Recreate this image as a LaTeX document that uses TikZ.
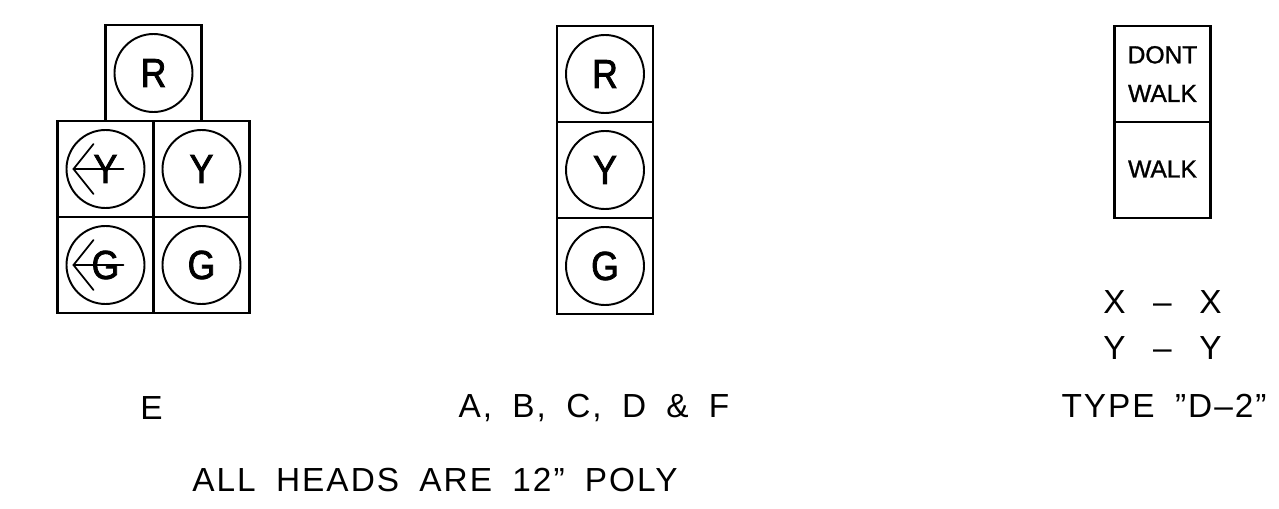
\documentclass[tikz,border=0pt]{standalone}
\usepackage{fontspec}
\setmainfont{Liberation Sans}
\newfontfamily\capfont[LetterSpace=6,WordSpace=1.8]{Liberation Sans}
\newfontfamily\lampfont[FakeBold=2,FakeStretch=0.88]{Liberation Sans}
\newfontfamily\walkfont[FakeBold=1.2]{Liberation Sans}
\usetikzlibrary{positioning,calc}

\tikzset{
    headbox/.style={rectangle, draw, line width=1.5pt, minimum size=1.92cm, outer sep=0pt, inner sep=0pt},
    lamp/.style={circle, draw, line width=1.1pt, minimum size=1.56cm, inner sep=0pt, font=\lampfont\fontsize{23}{23}\selectfont},
    walktext/.style={align=center, font=\walkfont\fontsize{14}{22}\selectfont},
    caption/.style={inner sep=0pt, font=\capfont\fontsize{19}{19}\selectfont},
    turnarrow/.style={line width=1pt, line cap=round}
}

\begin{document}
\begin{tikzpicture}
    \useasboundingbox (0,0) rectangle (25.58,-10.16);

    % Head E
    \node [headbox] (rE) at (3.07,-1.46) {};
    \node [headbox, below=0pt of rE, xshift=-0.96cm] (yL) {};
    \node [headbox, right=0pt of yL] (yE) {};
    \node [headbox, below=0pt of yL] (gL) {};
    \node [headbox, right=0pt of gL] (gE) {};
    \node [lamp] (rElamp) at (rE) {R};
    \node [lamp] (yLlamp) at (yL) {Y};
    \node [lamp] (yElamp) at (yE) {Y};
    \node [lamp] (gLlamp) at (gL) {G};
    \node [lamp] (gElamp) at (gE) {G};

    % Arrows over the left lamps
    \foreach \lamp in {yLlamp,gLlamp} {
        \draw[turnarrow] ($(\lamp)+(0.36,0)$) -- ($(\lamp)+(-0.64,0)$);
        \draw[turnarrow] ($(\lamp)+(-0.24,0.5)$) -- ($(\lamp)+(-0.64,0)$) -- ($(\lamp)+(-0.24,-0.5)$);
    }

    % Head A, B, C, D & F
    \node [headbox] (rA) at (12.10,-1.48) {};
    \node [headbox, below=0pt of rA] (yA) {};
    \node [headbox, below=0pt of yA] (gA) {};
    \node [lamp] (rAlamp) at (rA) {R};
    \node [lamp] (yAlamp) at (yA) {Y};
    \node [lamp] (gAlamp) at (gA) {G};

    % Type D-2
    \node [headbox] (dont) at (23.25,-1.48) {};
    \node [headbox, below=0pt of dont] (walk) {};
    \node [walktext] (donttext) at (dont) {DONT\\WALK};
    \node [walktext] (walktext) at ([yshift=0.02cm]walk) {WALK};

    % Captions
    \node [caption] (xx) at (23.25,-6.05) {X\hspace{0.55cm}–\hspace{0.55cm}X};
    \node [caption] (yy) at (23.25,-6.97) {Y\hspace{0.55cm}–\hspace{0.55cm}Y};
    \node [caption] (typed) at (23.28,-8.12) {TYPE ”D–2”};
    \node [caption] (capE) at (3.03,-8.16) {E};
    \node [caption] (capA) at (11.88,-8.16) {A, B, C, D \& F};
    \node [caption] (capall) at (8.70,-9.60) {ALL HEADS ARE 12” POLY};
\end{tikzpicture}
\end{document}
